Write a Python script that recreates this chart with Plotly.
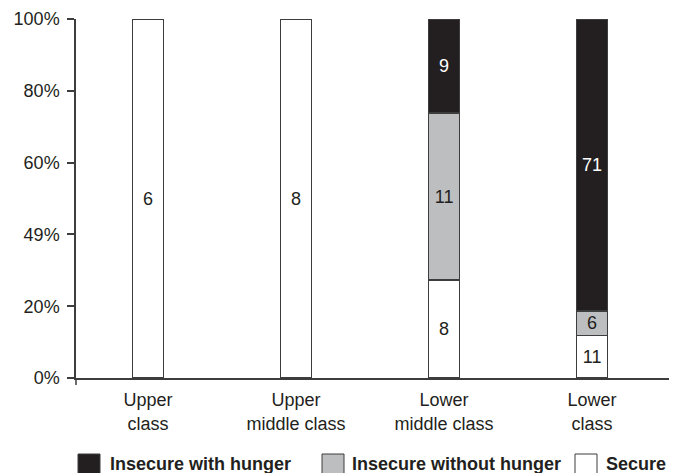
import plotly.graph_objects as go

categories = ["Upper<br>class", "Upper<br>middle class", "Lower<br>middle class", "Lower<br>class"]
series_names = ["Insecure with hunger", "Insecure without hunger", "Secure"]

# shares of each bar (percent)
secure_pct = [100, 100, 27.3, 11.8]
without_hunger_pct = [None, None, 46.5, 6.9]
with_hunger_pct = [None, None, 26.2, 81.3]

# counts printed inside the segments
secure_n = ["6", "8", "8", "11"]
without_hunger_n = ["", "", "11", "6"]
with_hunger_n = ["", "", "9", "71"]

ytick_vals = [0, 20, 40, 60, 80, 100]
ytick_text = ["0%", "20%", "49%", "60%", "80%", "100%"]

FONT = "Liberation Sans, Arial, sans-serif"
INK = "#231f20"
EDGE = "#3d3d3d"
FS = 18
fills = {"Insecure with hunger": "#231f20", "Insecure without hunger": "#bcbec0", "Secure": "#ffffff"}
text_colors = {"Insecure with hunger": "#ffffff", "Insecure without hunger": INK, "Secure": INK}

# the page body has an 8px margin; compensate so the plot lands where the reference has it
OFF = 8
PLOT_L, PLOT_R, PLOT_T, PLOT_B = 76, 669, 19, 378
W, H = 679 - OFF, 473 - OFF

x_idx = list(range(len(categories)))
fig = go.Figure()
for name, vals, labels in [
    ("Secure", secure_pct, secure_n),
    ("Insecure without hunger", without_hunger_pct, without_hunger_n),
    ("Insecure with hunger", with_hunger_pct, with_hunger_n),
]:
    fig.add_trace(go.Bar(
        x=x_idx, y=vals, name=name, text=labels,
        textposition="inside", insidetextanchor="middle", textangle=0,
        textfont=dict(family=FONT, size=FS, color=text_colors[name]),
        marker=dict(color=fills[name], line=dict(color=EDGE, width=1.5)),
        width=0.21, showlegend=False, hoverinfo="skip",
    ))

fig.update_layout(
    barmode="stack",
    width=W, height=H,
    margin=dict(l=PLOT_L - OFF, r=679 - PLOT_R, t=PLOT_T - OFF, b=473 - PLOT_B),
    paper_bgcolor="white", plot_bgcolor="white",
    font=dict(family=FONT, size=FS, color=INK),
    uniformtext=dict(minsize=FS, mode="show"),
)
fig.update_xaxes(
    range=[-0.487, 3.52], tickmode="array", tickvals=x_idx, ticktext=categories,
    showline=True, linecolor=EDGE, linewidth=1.5, ticks="", showgrid=False,
    zeroline=False, tickfont=dict(size=FS, color=INK), automargin=False,
    ticklabelstandoff=5,
)
fig.update_yaxes(
    range=[0, 100], tickmode="array", tickvals=ytick_vals, ticktext=ytick_text,
    showline=True, linecolor=EDGE, linewidth=1.5, ticks="outside", ticklen=7,
    tickcolor=EDGE, tickwidth=1.5, showgrid=False, zeroline=False,
    ticklabelstandoff=4, tickfont=dict(size=FS, color=INK), automargin=False,
)

plot_w, plot_h = PLOT_R - PLOT_L, PLOT_B - PLOT_T

# y axis line poking below the x axis
fig.add_shape(type="line", xref="paper", yref="paper", x0=0, x1=0, y0=0, y1=-7 / plot_h,
              line=dict(color=EDGE, width=1.5))

# manual legend
legend_box_px = [78, 322, 575]
legend_text_px = [108, 350, 604]
for name, bx, tx in zip(series_names, legend_box_px, legend_text_px):
    fig.add_shape(type="rect", xref="paper", yref="paper",
                  x0=(bx - PLOT_L) / plot_w, x1=(bx + 22 - PLOT_L) / plot_w,
                  y0=(PLOT_B - 454) / plot_h, y1=(PLOT_B - 476) / plot_h,
                  fillcolor=fills[name], line=dict(color=EDGE, width=1))
    fig.add_annotation(text="<b>" + name + "</b>", xref="paper", yref="paper",
                       x=(tx - PLOT_L) / plot_w, y=(PLOT_B - 464) / plot_h,
                       xanchor="left", yanchor="middle", showarrow=False,
                       font=dict(family=FONT, size=FS, color=INK))

fig.write_html("out.html")
